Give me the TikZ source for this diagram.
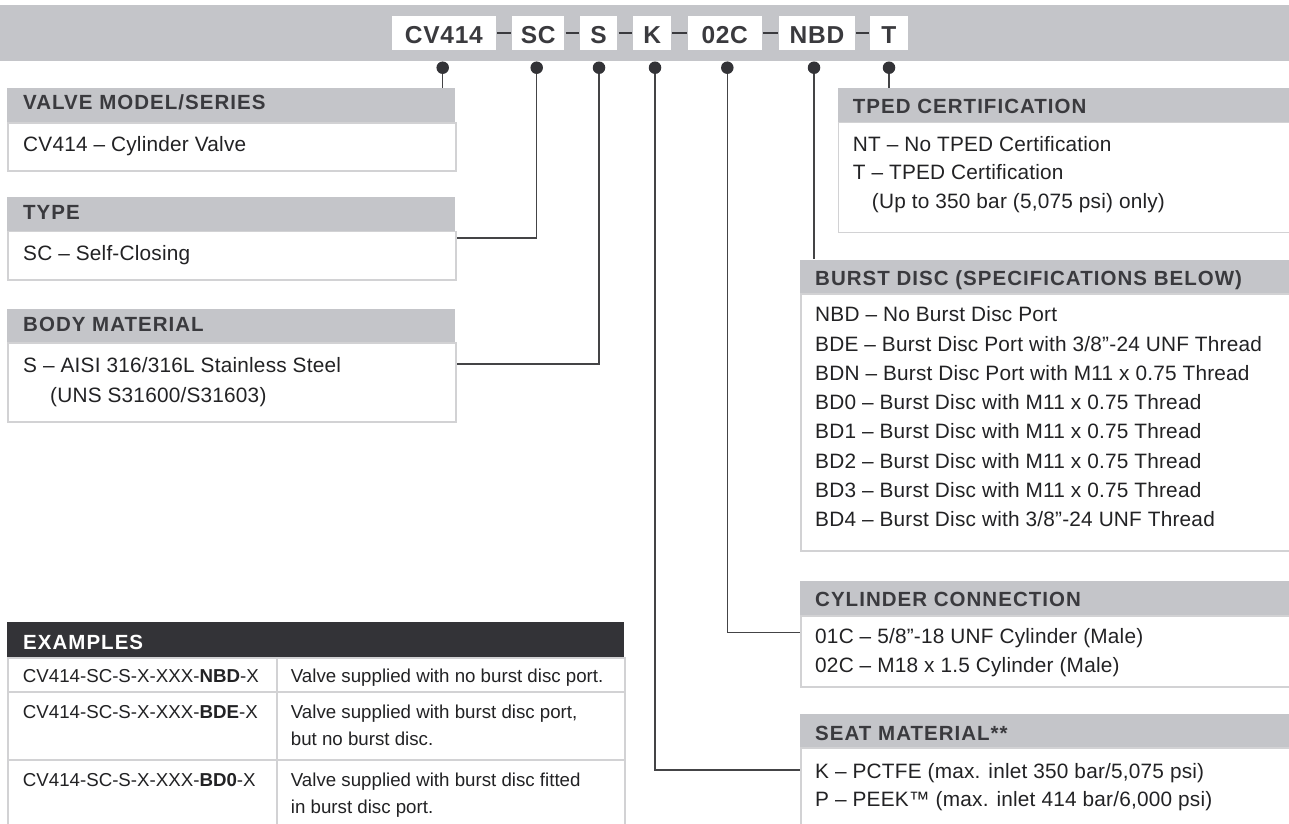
\documentclass[tikz,border=0pt]{standalone}
\usepackage{fontspec}
\setmainfont{Liberation Sans}
\newfontfamily\hdfont[LetterSpace=5]{Liberation Sans}
\newfontfamily\bdfont[LetterSpace=1]{Liberation Sans}
\newfontfamily\cdfont[LetterSpace=3]{Liberation Sans}
\newfontfamily\tbfont{Liberation Sans}
\definecolor{bandgray}{RGB}{196,197,201}
\definecolor{bordergray}{RGB}{210,210,212}
\definecolor{ink}{RGB}{58,58,62}
\definecolor{txt}{RGB}{34,34,36}
\definecolor{darkhd}{RGB}{51,51,55}
\definecolor{wirec}{RGB}{68,68,70}
\tikzset{
  codebox/.style={fill=white, inner sep=0pt, minimum height=34pt, text height=20.7pt, text depth=0pt,
    font=\cdfont\bfseries\fontsize{24.5}{24.5}\selectfont, text=ink},
  hdr/.style={fill=bandgray, anchor=north west, inner sep=0pt},
  bodybox/.style={fill=white, draw=bordergray, line width=1.5pt, anchor=north west, inner sep=0pt},
  htext/.style={anchor=base west, inner sep=0pt, font=\hdfont\bfseries\fontsize{20.5}{20.5}\selectfont, text=ink},
  btext/.style={anchor=base west, inner sep=0pt, font=\bdfont\fontsize{20.8}{20.8}\selectfont, text=txt},
  ttext/.style={anchor=base west, inner sep=0pt, font=\tbfont\fontsize{18.7}{18.7}\selectfont, text=txt},
  dotnode/.style={circle, fill=darkhd, inner sep=0pt, minimum size=12.5pt},
  wire/.style={draw=wirec, line width=1.3pt},
  joinline/.style={draw=ink, line width=2pt, shorten >=1pt, shorten <=1pt},
  cell/.style={fill=white, draw=bordergray, line width=1.5pt, anchor=north west, inner sep=0pt}
}
\begin{document}
\begin{tikzpicture}[x=1pt,y=-1pt]
\useasboundingbox (0,0) rectangle (1289,823);

% top band
\node[hdr, minimum width=1289pt, minimum height=56pt] (band) at (0,5) {};
\node[codebox, minimum width=104.3pt] (bCV) at (443.85,33) {CV414};
\node[codebox, minimum width=52pt] (bSC) at (538.3,33) {SC};
\node[codebox, minimum width=37.3pt] (bS) at (598.65,33) {S};
\node[codebox, minimum width=37.7pt] (bK) at (652.15,33) {K};
\node[codebox, minimum width=74pt] (b02C) at (724.7,33) {02C};
\node[codebox, minimum width=76pt] (bNBD) at (817,33) {NBD};
\node[codebox, minimum width=37.7pt] (bT) at (888.85,33) {T};
\draw[joinline] (bCV.east) -- (bSC.west);
\draw[joinline] (bSC.east) -- (bS.west);
\draw[joinline] (bS.east) -- (bK.west);
\draw[joinline] (bK.east) -- (b02C.west);
\draw[joinline] (b02C.east) -- (bNBD.west);
\draw[joinline] (bNBD.east) -- (bT.west);

% dots
\node[dotnode] (pCV) at (442.7,67.7) {};
\node[dotnode] (pSC) at (536.7,67.7) {};
\node[dotnode] (pS) at (599,67.7) {};
\node[dotnode] (pK) at (655,67.7) {};
\node[dotnode] (p02C) at (727.3,67.7) {};
\node[dotnode] (pNBD) at (814,67.7) {};
\node[dotnode] (pT) at (889,67.7) {};

% left boxes
\node[hdr, minimum width=448pt, minimum height=34.3pt] (vmh) at (7,87.7) {};
\node[bodybox, minimum width=448pt, minimum height=48pt] (vmb) at (7,122) {};
\node[htext] (vmt) at (23,109.3) {VALVE MODEL/SERIES};
\node[btext] (vm1) at (23,151.7) {CV414 – Cylinder Valve};

\node[hdr, minimum width=448pt, minimum height=34pt] (tyh) at (7,196.7) {};
\node[bodybox, minimum width=448pt, minimum height=48.3pt] (tyb) at (7,230.7) {};
\node[htext] (tyt) at (23,219.3) {TYPE};
\node[btext] (ty1) at (23,260) {SC – Self-Closing};

\node[hdr, minimum width=448pt, minimum height=34pt] (bmh) at (7,308.3) {};
\node[bodybox, minimum width=448pt, minimum height=78.7pt] (bmb) at (7,342.3) {};
\node[htext] (bmt) at (23,331.7) {BODY MATERIAL};
\node[btext] (bm1) at (23,372.7) {S – AISI 316/316L Stainless Steel};
\node[btext] (bm2) at (50,402) {(UNS S31600/S31603)};

% right boxes
\node[hdr, minimum width=470pt, minimum height=34pt] (tph) at (837.7,87.7) {};
\node[bodybox, minimum width=470pt, minimum height=110pt] (tpb) at (837.7,121.7) {};
\node[htext] (tpt) at (852.7,113.3) {TPED CERTIFICATION};
\node[btext] (tp1) at (852.7,151) {NT – No TPED Certification};
\node[btext] (tp2) at (852.7,179.5) {T – TPED Certification};
\node[btext] (tp3) at (871.7,208) {(Up to 350 bar (5,075 psi) only)};

\node[hdr, minimum width=500pt, minimum height=34pt] (bdh) at (800,259.3) {};
\node[bodybox, minimum width=500pt, minimum height=257pt] (bdb) at (800,293.3) {};
\node[htext] (bdt) at (815,285) {BURST DISC (SPECIFICATIONS BELOW)};
\node[btext] (bd1) at (815,321.7) {NBD – No Burst Disc Port};
\node[btext] (bd2) at (815,351.0) {BDE – Burst Disc Port with 3/8”-24 UNF Thread};
\node[btext] (bd3) at (815,380.3) {BDN – Burst Disc Port with M11 x 0.75 Thread};
\node[btext] (bd4) at (815,409.6) {BD0 – Burst Disc with M11 x 0.75 Thread};
\node[btext] (bd5) at (815,438.9) {BD1 – Burst Disc with M11 x 0.75 Thread};
\node[btext] (bd6) at (815,468.2) {BD2 – Burst Disc with M11 x 0.75 Thread};
\node[btext] (bd7) at (815,497.5) {BD3 – Burst Disc with M11 x 0.75 Thread};
\node[btext] (bd8) at (815,526.8) {BD4 – Burst Disc with 3/8”-24 UNF Thread};

\node[hdr, minimum width=500pt, minimum height=34.3pt] (cch) at (800,580.7) {};
\node[bodybox, minimum width=500pt, minimum height=71pt] (ccb) at (800,615) {};
\node[htext] (cct) at (815,606.7) {CYLINDER CONNECTION};
\node[btext] (cc1) at (815,643.3) {01C – 5/8”-18 UNF Cylinder (Male)};
\node[btext] (cc2) at (815,672.3) {02C – M18 x 1.5 Cylinder (Male)};

\node[hdr, minimum width=500pt, minimum height=33.3pt] (smh) at (800,714) {};
\node[bodybox, minimum width=500pt, minimum height=90pt] (smb) at (800,747.3) {};
\node[htext] (smt) at (815,740.7) {SEAT MATERIAL**};
\node[btext] (sm1) at (815,778.3) {K – PCTFE (max. inlet 350 bar/5,075 psi)};
\node[btext] (sm2) at (815,806.7) {P – PEEK™ (max. inlet 414 bar/6,000 psi)};

% examples table
\node[fill=darkhd, anchor=north west, inner sep=0pt, minimum width=617pt, minimum height=35pt] (exh) at (7,622) {};
\node[htext, text=white] (ext) at (23,649.3) {EXAMPLES};
\node[cell, minimum width=269pt, minimum height=34pt] (c11) at (7,657) {};
\node[cell, minimum width=348pt, minimum height=34pt] (c12) at (276,657) {};
\node[cell, minimum width=269pt, minimum height=68pt] (c21) at (7,691) {};
\node[cell, minimum width=348pt, minimum height=68pt] (c22) at (276,691) {};
\node[cell, minimum width=269pt, minimum height=80pt] (c31) at (7,759) {};
\node[cell, minimum width=348pt, minimum height=80pt] (c32) at (276,759) {};
\node[ttext] (t11) at (22.7,682.3) {CV414-SC-S-X-XXX-\textbf{NBD}-X};
\node[ttext] (t12) at (290.7,682.3) {Valve supplied with no burst disc port.};
\node[ttext] (t21) at (22.7,718.3) {CV414-SC-S-X-XXX-\textbf{BDE}-X};
\node[ttext] (t22) at (290.7,718.3) {Valve supplied with burst disc port,};
\node[ttext] (t23) at (290.7,745.7) {but no burst disc.};
\node[ttext] (t31) at (22.7,786) {CV414-SC-S-X-XXX-\textbf{BD0}-X};
\node[ttext] (t32) at (290.7,786) {Valve supplied with burst disc fitted};
\node[ttext] (t33) at (290.7,813.3) {in burst disc port.};

% connectors
\draw[wire] (pCV.south) -- (pCV.south |- vmh.north);
\draw[wire] (pSC.south) |- (tyb.east |- 0,238);
\draw[wire] (pS.south) |- (bmb.east |- 0,364);
\draw[wire] (pK.south) |- (smb.west |- 0,770);
\draw[wire] (p02C.south) |- (ccb.west |- 0,632.3);
\draw[wire] (pNBD.south) -- (pNBD.south |- bdh.north);
\draw[wire] (pT.south) -- (pT.south |- tph.north);
\end{tikzpicture}
\end{document}
